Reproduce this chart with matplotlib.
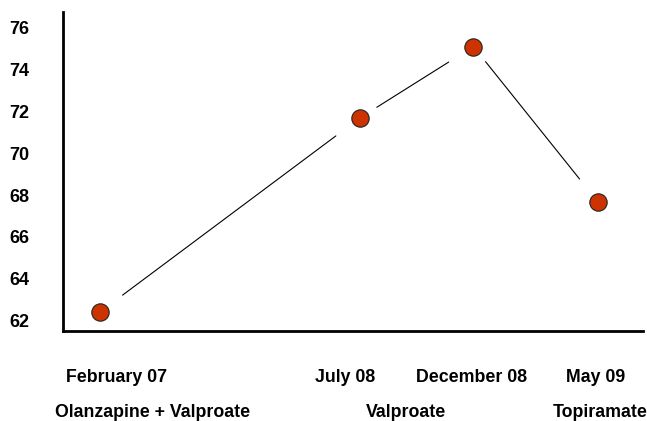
import matplotlib
matplotlib.use("Agg")
import matplotlib.pyplot as plt

# visit positions on the time axis and the measured values
visit_pos = [0, 2.3, 3.3, 4.4]
values = [62.42, 71.7, 75.1, 67.68]
dates = ["February 07", "July 08", "December 08", "May 09"]
treatments = ["Olanzapine + Valproate", "Valproate", "Topiramate"]
yticks = [62, 64, 66, 68, 70, 72, 74, 76]

plt.rcParams['font.family'] = ['Liberation Sans', 'DejaVu Sans']
plt.rcParams['font.weight'] = 'bold'

fig = plt.figure(figsize=(6.47, 4.21), dpi=100)
ax = fig.add_axes([63 / 647, 1 - 331 / 421, 580 / 647, 319 / 421])

# connecting lines stop short of the markers (like the original)
gap_start = [20, 14, 14]
gap_end = [22, 21, 21]
for i in range(len(values) - 1):
    ax.annotate('', xy=(visit_pos[i + 1], values[i + 1]),
                xytext=(visit_pos[i], values[i]),
                arrowprops=dict(arrowstyle='-', color='black', lw=0.8,
                                shrinkA=gap_start[i], shrinkB=gap_end[i]))

ax.plot(visit_pos, values, linestyle='none', marker='o', markersize=12.5,
        markerfacecolor='#cc3300', markeredgecolor='#222222',
        markeredgewidth=0.8, zorder=3)

ax.set_xlim(-0.33, 4.8)
ax.set_ylim(61.5, 76.75)
ax.set_yticks(yticks)
ax.set_yticklabels([str(t) for t in yticks], fontsize=13, fontweight='bold')
ax.set_xticks([])
ax.tick_params(axis='y', length=0, pad=24)

for s in ['top', 'right']:
    ax.spines[s].set_visible(False)
for s in ['left', 'bottom']:
    ax.spines[s].set_linewidth(2.0)

# labels under the axis
date_x = [116, 345, 472, 596]
for lbl, px in zip(dates, date_x):
    fig.text(px / 647, 1 - 382 / 421, lbl, ha='center', va='baseline',
             fontsize=12.8, fontweight='bold')
treat_x = [153, 406, 600]
for lbl, px in zip(treatments, treat_x):
    fig.text(px / 647, 1 - 417 / 421, lbl, ha='center', va='baseline',
             fontsize=12.8, fontweight='bold')

fig.savefig("out.png", dpi=100)
